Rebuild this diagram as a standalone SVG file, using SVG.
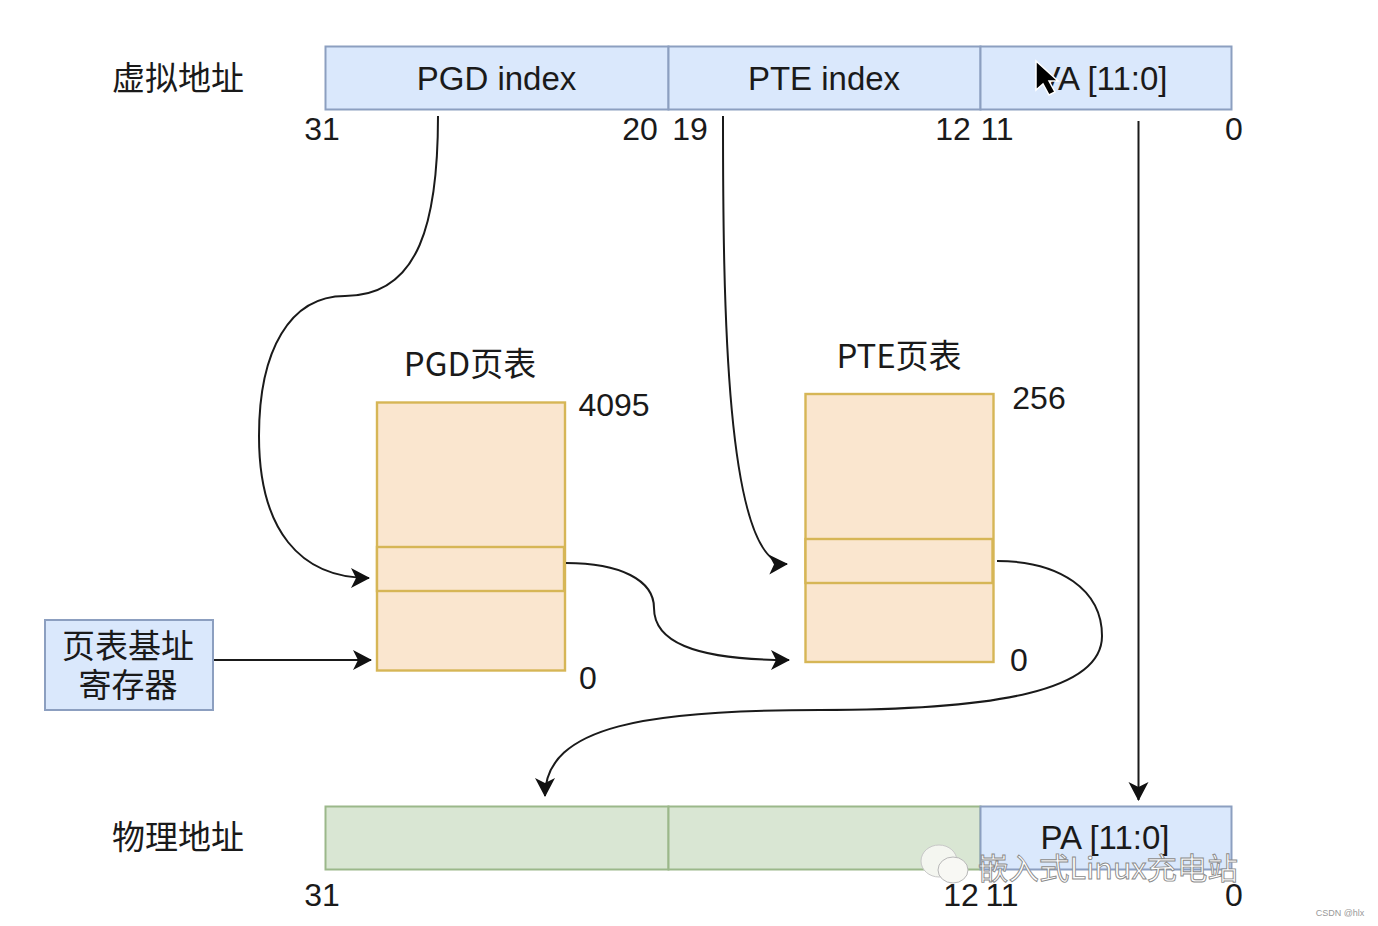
<svg xmlns="http://www.w3.org/2000/svg" width="1378" height="926" viewBox="0 0 1378 926">
<style>
text{font-family:"Liberation Sans","Noto Sans CJK SC",sans-serif;fill:#1a1a1a;font-size:33px;text-anchor:middle}
.cjk{font-family:"Noto Sans CJK SC","Liberation Sans",sans-serif;font-size:33px}
.n{font-size:32px}
.blue{fill:#dae8fc;stroke:#8c9fc0;stroke-width:2}
.green{fill:#d9e6d3;stroke:#9bb88a;stroke-width:2}
.orange{fill:#fae6cf;stroke:#d6b656;stroke-width:2.4}
.c{fill:none;stroke:#1a1a1a;stroke-width:2}
.wm{font-family:"Noto Sans CJK SC","Liberation Sans",sans-serif;font-size:30px;fill:#fff;stroke:#8a8a8a;stroke-width:.9;text-anchor:start}
</style>
<defs>
<marker id="a" markerUnits="userSpaceOnUse" markerWidth="22" markerHeight="22" refX="18" refY="10" orient="auto"><path d="M0 0L19 10L0 20L5 10Z" fill="#111"/></marker>
</defs>
<rect width="1378" height="926" fill="#fff"/>

<g id="va-label"><text class="cjk" x="178" y="90">虚拟地址</text></g>
<g id="va-pgd"><rect class="blue" x="325.500" y="46.500" width="343" height="63"/><text x="496.500" y="90">PGD index</text></g>
<g id="va-pte"><rect class="blue" x="668.500" y="46.500" width="312" height="63"/><text x="824" y="90">PTE index</text></g>
<g id="va-offset"><rect class="blue" x="980.500" y="46.500" width="251" height="63"/><text x="1103" y="90">VA [11:0]</text></g>
<g id="va-bits">
<text class="n" x="322" y="140">31</text><text class="n" x="640" y="140">20</text><text class="n" x="690" y="140">19</text>
<text class="n" x="953" y="140">12</text><text class="n" x="997" y="140">11</text><text class="n" x="1234" y="140">0</text>
</g>

<g id="pgd-table">
<text class="cjk" x="470" y="376">PGD页表</text>
<rect class="orange" x="377" y="402.500" width="188" height="268"/>
<rect class="orange" x="377" y="547" width="187" height="44"/>
<text class="n" x="614" y="416">4095</text><text class="n" x="588" y="689">0</text>
</g>
<g id="pte-table">
<text class="cjk" x="899" y="368">PTE页表</text>
<rect class="orange" x="805.500" y="394" width="188" height="268"/>
<rect class="orange" x="805.500" y="539" width="187" height="44"/>
<text class="n" x="1039" y="409">256</text><text class="n" x="1019" y="671">0</text>
</g>
<g id="base-register">
<rect class="blue" x="45" y="620" width="168" height="90"/>
<text class="cjk" x="128" y="658">页表基址</text><text class="cjk" x="128" y="697">寄存器</text>
</g>

<g id="pa-label"><text class="cjk" x="178" y="849">物理地址</text></g>
<g id="pa-high"><rect class="green" x="325.500" y="806.500" width="343" height="63"/></g>
<g id="pa-mid"><rect class="green" x="668.500" y="806.500" width="312" height="63"/></g>
<g id="pa-offset"><rect class="blue" x="980.500" y="806.500" width="251" height="63"/><text x="1105" y="849">PA [11:0]</text></g>
<g id="pa-bits">
<text class="n" x="322" y="906">31</text><text class="n" x="961" y="906">12</text><text class="n" x="1002" y="906">11</text><text class="n" x="1234" y="906">0</text>
</g>

<g id="connectors">
<path class="c" marker-end="url(#a)" d="M438 116C438 220 420 296 345 296C290 296 259 350 259 436C259 530 300 578 369 578"/>
<path class="c" marker-end="url(#a)" d="M723 116C723 300 725 566 787 564"/>
<path class="c" marker-end="url(#a)" d="M214 660H371"/>
<path class="c" marker-end="url(#a)" d="M566 563C620 563 654 580 654 608C654 640 690 660 789 660"/>
<path class="c" marker-end="url(#a)" d="M997 561C1060 561 1102 590 1102 636C1102 690 1000 710 820 710C650 710 545 725 545 796"/>
<path class="c" marker-end="url(#a)" d="M1138.500 121V800"/>
</g>

<g id="cursor"><path d="M1036 61V90L1043 84L1049 95L1055 92L1049 81L1058 81Z" fill="#000" stroke="#fff" stroke-width="1.500"/></g>

<g id="watermark">
<ellipse cx="939" cy="861" rx="18" ry="16" fill="#f4f6f0" stroke="#c8c8c8"/>
<ellipse cx="953" cy="870" rx="15" ry="13" fill="#f8f8f4" stroke="#b8b8b8"/>
<text class="wm" x="978" y="879" textLength="260" lengthAdjust="spacingAndGlyphs">嵌入式Linux充电站</text>
<text x="1340" y="916" style="font-size:9px;fill:#999">CSDN @hlx</text>
</g>
</svg>
